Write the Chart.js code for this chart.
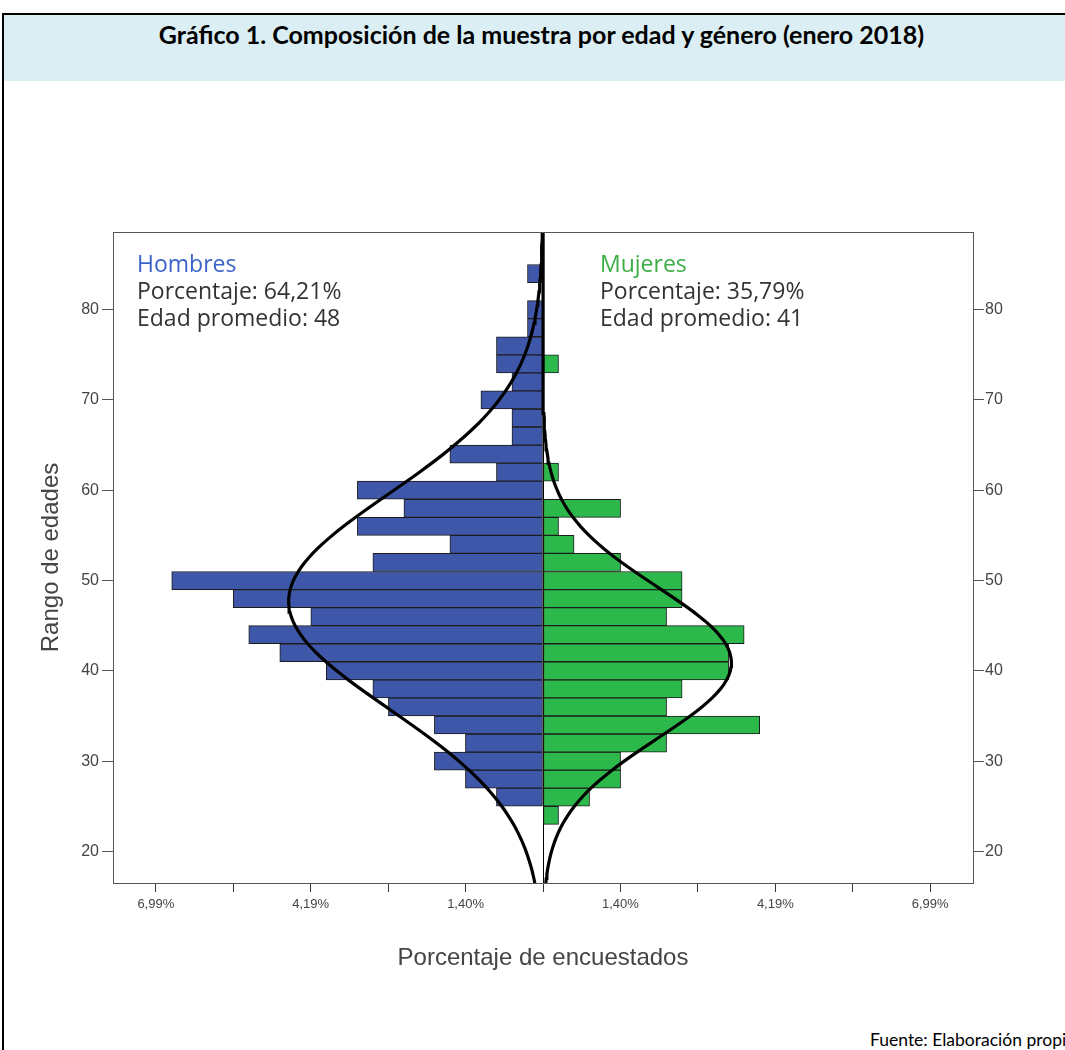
<!DOCTYPE html>
<html>
<head>
<meta charset="utf-8">
<title>Gráfico 1. Composición de la muestra por edad y género</title>
<script src="https://cdn.jsdelivr.net/npm/chart.js@4.4.1/dist/chart.umd.min.js"></script>
<style>
  html, body { margin: 0; padding: 0; background: #fff; }
  body { width: 1065px; height: 1050px; overflow: hidden; position: relative; }
  #frame { position: absolute; left: 2px; top: 13px; width: 1100px; height: 1100px;
           border-left: 2px solid #000; border-top: 2px solid #000; }
  #titleBox { position: absolute; left: 0; top: 0; width: 100%; height: 66px; background: #daeef3; }
  #title { position: absolute; left: 0; width: 1075px; top: 4px; text-align: center;
           font: bold 25px Lato, sans-serif; color: #000; white-space: nowrap; }
  #source { position: absolute; left: 870px; top: 1029px; font: 17.5px Lato, sans-serif;
            color: #000; white-space: nowrap; }
  #chart { position: absolute; left: 0; top: 0; }
</style>
</head>
<body>
<div id="frame">
  <div id="titleBox"><div id="title">Gráfico 1. Composición de la muestra por edad y género (enero 2018)</div></div>
</div>
<div id="source">Fuente: Elaboración propia</div>
<canvas id="chart" width="1065" height="1050"></canvas>
<script>
// age bins, 2 years wide (bin centre)
var ages = [24, 26, 28, 30, 32, 34, 36, 38, 40, 42, 44, 46, 48, 50, 52, 54,
            56, 58, 60, 62, 64, 66, 68, 70, 72, 74, 76, 78, 80, 82, 84];
// % of respondents per bin
var hombres = [0, 0.84, 1.40, 1.96, 1.40, 1.96, 2.79, 3.07, 3.91, 4.75, 5.31, 4.19, 5.59, 6.70, 3.07, 1.68,
               3.35, 2.51, 3.35, 0.84, 1.68, 0.56, 0.56, 1.12, 0.56, 0.84, 0.84, 0.28, 0.28, 0, 0.28];
var mujeres = [0.28, 0.84, 1.40, 1.40, 2.23, 3.91, 2.23, 2.51, 3.35, 3.35, 3.63, 2.23, 2.51, 2.51, 1.40, 0.56,
               0.28, 1.40, 0, 0.28, 0, 0, 0, 0, 0, 0.28, 0, 0, 0, 0, 0];

var groups = ["Hombres", "Mujeres"];
var shares = ["64,21%", "35,79%"];
var meanAges = [48, 41];

// fitted normal curves (mean, sd, peak in %)
var curveMean = [47.7, 40.9];
var curveSd = [11.9, 8.4];
var curvePeak = [4.59, 3.40];

var yTicks = [20, 30, 40, 50, 60, 70, 80];
var xTickValues = [-6.9875, -5.59, -4.1925, -2.795, -1.3975, 0, 1.3975, 2.795, 4.1925, 5.59, 6.9875];
var xTickLabels = ["6,99%", "", "4,19%", "", "1,40%", "", "1,40%", "", "4,19%", "", "6,99%"];

var xMin = -7.76, xMax = 7.76, yMin = 16.5, yMax = 88.6;

function normalCurve(i, sign) {
    var pts = [];
    for (var a = yMin; a <= yMax + 0.001; a += 0.5) {
        var z = (a - curveMean[i]) / curveSd[i];
        pts.push({ x: sign * curvePeak[i] * Math.exp(-0.5 * z * z), y: a });
    }
    return pts;
}

Chart.defaults.font.family = "'Liberation Sans', Arial, sans-serif";
Chart.defaults.color = "#444";

//text boxes inside the plot + top frame line
var notesPlugin = {
    id: "notes",
    afterDatasetsDraw: function (chart) {
        var ctx = chart.ctx, area = chart.chartArea;
        ctx.save();
        ctx.strokeStyle = "#555";
        ctx.lineWidth = 1;
        ctx.beginPath();
        ctx.moveTo(area.left, area.top + 0.5);
        ctx.lineTo(area.right, area.top + 0.5);
        ctx.stroke();

        var colors = ["#3a62c9", "#3cae45"];
        var xs = [area.left + 24, area.left + 487];
        ctx.font = "23px 'Open Sans', sans-serif";
        ctx.textBaseline = "alphabetic";
        for (var i = 0; i < groups.length; i++) {
            ctx.fillStyle = colors[i];
            ctx.fillText(groups[i], xs[i], area.top + 40);
            ctx.fillStyle = "#333";
            ctx.fillText("Porcentaje: " + shares[i], xs[i], area.top + 67);
            ctx.fillText("Edad promedio: " + meanAges[i], xs[i], area.top + 94);
        }
        ctx.restore();
    }
};

var yAxisBase = {
    type: "linear",
    min: yMin,
    max: yMax,
    offset: false,
    afterBuildTicks: function (scale) {
        scale.ticks = yTicks.map(function (v) { return { value: v }; });
    },
    grid: { drawOnChartArea: false, offset: false, tickLength: 11, tickColor: "#555" },
    border: { display: true, color: "#555", width: 1 },
    ticks: { font: { size: 16 }, color: "#444", padding: 3 }
};

var chart = new Chart(document.getElementById("chart"), {
    type: "bar",
    data: {
        datasets: [
            {
                type: "line", label: "Normal hombres", data: normalCurve(0, -1),
                borderColor: "#000", borderWidth: 3.2, pointRadius: 0, tension: 0,
                indexAxis: "y", order: 0
            },
            {
                type: "line", label: "Normal mujeres", data: normalCurve(1, 1),
                borderColor: "#000", borderWidth: 3.2, pointRadius: 0, tension: 0,
                indexAxis: "y", order: 0
            },
            {
                label: "Hombres",
                data: ages.map(function (a, i) { return { x: -hombres[i], y: a }; }),
                backgroundColor: "#3f57a9", borderColor: "#1c1c1c", borderWidth: 1,
                borderSkipped: false, grouped: false, barPercentage: 1, categoryPercentage: 1,
                order: 1
            },
            {
                label: "Mujeres",
                data: ages.map(function (a, i) { return { x: mujeres[i], y: a }; }),
                backgroundColor: "#2db84b", borderColor: "#1c1c1c", borderWidth: 1,
                borderSkipped: false, grouped: false, barPercentage: 1, categoryPercentage: 1,
                order: 1
            }
        ]
    },
    options: {
        indexAxis: "y",
        responsive: false,
        animation: false,
        layout: { padding: { left: 0, right: 0, top: 232, bottom: 67 } },
        plugins: { legend: { display: false }, tooltip: { enabled: false } },
        scales: {
            x: {
                type: "linear",
                min: xMin,
                max: xMax,
                afterBuildTicks: function (scale) {
                    scale.ticks = xTickValues.map(function (v) { return { value: v }; });
                },
                afterFit: function (scale) { scale.height = 100; },
                grid: {
                    drawOnChartArea: true,
                    color: function (c) { return c.tick && c.tick.value === 0 ? "#000" : "rgba(0,0,0,0)"; },
                    tickColor: "#333",
                    tickLength: 9,
                    lineWidth: 1
                },
                border: { display: true, color: "#555", width: 1 },
                ticks: {
                    autoSkip: false, maxRotation: 0, padding: 5,
                    font: { size: 13 }, color: "#444",
                    callback: function (v, i) { return xTickLabels[i]; }
                },
                title: {
                    display: true, text: "Porcentaje de encuestados",
                    font: { size: 24 }, color: "#444", padding: { top: 0, bottom: 10 }
                }
            },
            y: Object.assign({}, yAxisBase, {
                position: "left",
                afterFit: function (scale) { scale.width = 113; },
                title: {
                    display: true, text: "Rango de edades",
                    font: { size: 24 }, color: "#444", padding: { top: 37, bottom: 0 }
                }
            }),
            y2: Object.assign({}, yAxisBase, {
                position: "right",
                afterFit: function (scale) { scale.width = 92; },
                ticks: { font: { size: 16 }, color: "#444", padding: 1 }
            })
        }
    },
    plugins: [notesPlugin]
});
</script>
</body>
</html>
